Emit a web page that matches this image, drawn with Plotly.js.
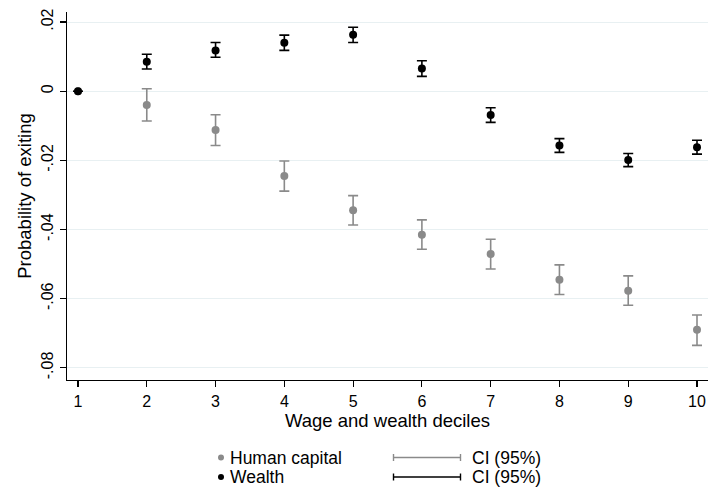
<!DOCTYPE html>
<html>
<head>
<meta charset="utf-8">
<script src="https://cdn.plot.ly/plotly-3.0.1.min.js"></script>
<style>html,body{margin:0;padding:0;background:#fff}#chart{width:709px;height:495px}</style>
</head>
<body>
<div id="chart"></div>
<script>
var deciles = [1, 2, 3, 4, 5, 6, 7, 8, 9, 10];
var humanCapital = [0, -0.0040, -0.0112, -0.0245, -0.0344, -0.0415, -0.0471, -0.0545, -0.0577, -0.0690];
var humanLow  = [0, -0.0086, -0.0157, -0.0289, -0.0387, -0.0457, -0.0514, -0.0588, -0.0619, -0.0735];
var humanHigh = [0, 0.0007, -0.0068, -0.0202, -0.0302, -0.0372, -0.0428, -0.0502, -0.0534, -0.0647];
var wealth = [0, 0.0085, 0.0118, 0.0140, 0.0163, 0.0066, -0.0069, -0.0157, -0.0199, -0.0162];
var wealthLow  = [0, 0.0064, 0.0098, 0.0118, 0.0141, 0.0043, -0.0090, -0.0177, -0.0218, -0.0182];
var wealthHigh = [0, 0.0107, 0.0141, 0.0162, 0.0185, 0.0088, -0.0048, -0.0137, -0.0180, -0.0142];
var yTickVals = [0.02, 0, -0.02, -0.04, -0.06, -0.08];
var yTickText = ['.02', '0', '-.02', '-.04', '-.06', '-.08'];
var legendNames = ['Human capital', 'Wealth'];
var ciLabel = 'CI (95%)';
var xTitle = 'Wage and wealth deciles';
var yTitle = 'Probability of exiting';

var GRAY = '#8a8a8a';
var BLACK = '#000000';
var TITLE_SIZE = 18.5;
var LEGEND_SIZE = 17.5;
var TICK_SIZE = 16;

function errArr(vals, lo, hi, which) {
  return vals.map(function (v, i) { return which === 'plus' ? hi[i] - v : v - lo[i]; });
}

var traces = [
  {
    x: deciles, y: humanCapital, type: 'scatter', mode: 'markers',
    marker: {color: GRAY, size: 8},
    error_y: {type: 'data', symmetric: false,
      array: errArr(humanCapital, humanLow, humanHigh, 'plus'),
      arrayminus: errArr(humanCapital, humanLow, humanHigh, 'minus'),
      color: GRAY, thickness: 1.6, width: 5},
    showlegend: false, name: legendNames[0]
  },
  {
    x: deciles, y: wealth, type: 'scatter', mode: 'markers',
    marker: {color: BLACK, size: 8},
    error_y: {type: 'data', symmetric: false,
      array: errArr(wealth, wealthLow, wealthHigh, 'plus'),
      arrayminus: errArr(wealth, wealthLow, wealthHigh, 'minus'),
      color: BLACK, thickness: 1.6, width: 5},
    showlegend: false, name: legendNames[1]
  }
];

// Legend built from shapes/annotations (paper coords)
var L = 67, R = 708, T = 12, B = 380;
function px(x) { return (x - L) / (R - L); }
function py(y) { return (B - y) / (B - T); }
var rows = [{y: 457.5, c: GRAY, name: legendNames[0]}, {y: 477, c: BLACK, name: legendNames[1]}];
var shapes = [], annotations = [];
rows.forEach(function (r) {
  shapes.push({type: 'circle', xref: 'paper', yref: 'paper', xsizemode: 'pixel', ysizemode: 'pixel',
    xanchor: px(221), yanchor: py(r.y), x0: -3, x1: 3, y0: -3, y1: 3,
    fillcolor: r.c, line: {color: r.c, width: 0}});
  shapes.push({type: 'line', xref: 'paper', yref: 'paper', x0: px(393), x1: px(461), y0: py(r.y), y1: py(r.y),
    line: {color: r.c, width: 1.6}});
  shapes.push({type: 'line', xref: 'paper', yref: 'paper', x0: px(393.5), x1: px(393.5), y0: py(r.y - 3.5), y1: py(r.y + 3.5),
    line: {color: r.c, width: 1.4}});
  shapes.push({type: 'line', xref: 'paper', yref: 'paper', x0: px(460.5), x1: px(460.5), y0: py(r.y - 3.5), y1: py(r.y + 3.5),
    line: {color: r.c, width: 1.4}});
  annotations.push({xref: 'paper', yref: 'paper', x: px(229), y: py(r.y), xanchor: 'left', yanchor: 'middle',
    text: r.name, showarrow: false, font: {size: LEGEND_SIZE, color: '#000'}, borderpad: 0});
  annotations.push({xref: 'paper', yref: 'paper', x: px(471), y: py(r.y), xanchor: 'left', yanchor: 'middle',
    text: ciLabel, showarrow: false, font: {size: LEGEND_SIZE, color: '#000'}, borderpad: 0});
});
annotations.push({xref: 'paper', yref: 'paper', x: px(387), y: py(420), xanchor: 'center', yanchor: 'middle',
  text: xTitle, showarrow: false, font: {size: TITLE_SIZE, color: '#000'}, borderpad: 0});

var layout = {
  width: 709, height: 495,
  margin: {l: L, r: 709 - R, t: T, b: 495 - B, pad: 0},
  paper_bgcolor: '#fff', plot_bgcolor: '#fff',
  font: {family: 'Liberation Sans, Arial, sans-serif', size: TICK_SIZE, color: '#000'},
  xaxis: {
    range: [0.84, 10.16], tickvals: deciles, ticks: 'outside', ticklen: 6, tickwidth: 1.2, tickcolor: '#000',
    showline: true, linecolor: '#000', linewidth: 1.3, showgrid: false, zeroline: false,
    tickfont: {size: TICK_SIZE}
  },
  yaxis: {
    range: [-0.0835, 0.0229], tickvals: yTickVals, ticktext: yTickText, tickangle: -90,
    ticks: 'outside', ticklen: 6, tickwidth: 1.2, tickcolor: '#000',
    showline: true, linecolor: '#000', linewidth: 1.3, showgrid: true, gridcolor: '#e8f0f2', gridwidth: 1,
    zeroline: false, tickfont: {size: TICK_SIZE}, title: {text: yTitle, font: {size: TITLE_SIZE}, standoff: 2}
  },
  shapes: shapes, annotations: annotations, showlegend: false
};

Plotly.newPlot('chart', traces, layout, {displayModeBar: false, staticPlot: true});
</script>
</body>
</html>
